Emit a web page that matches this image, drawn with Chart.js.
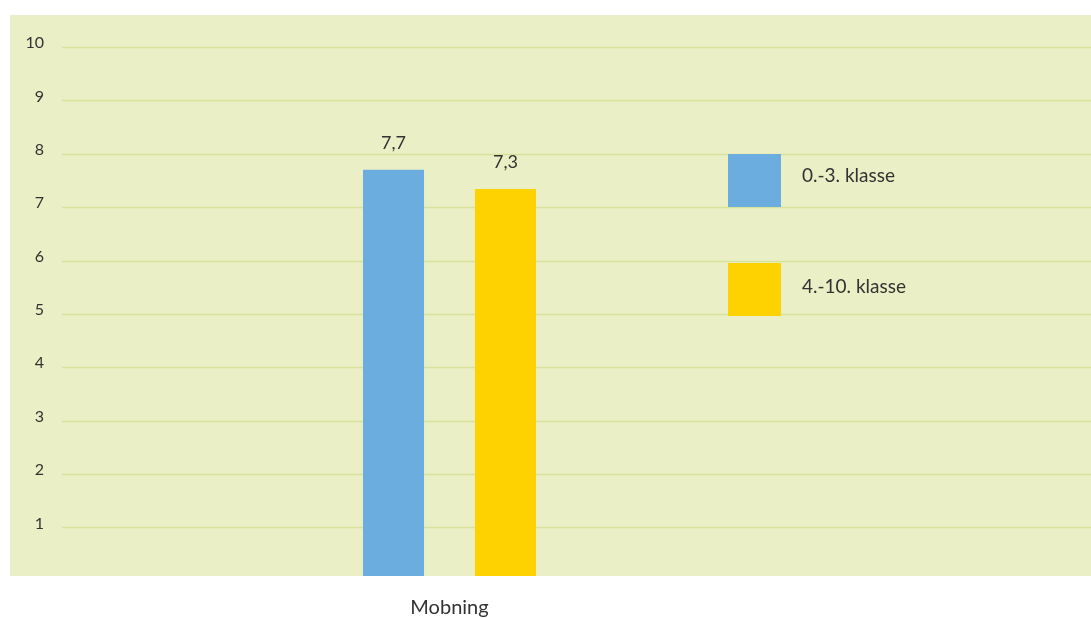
<!DOCTYPE html>
<html>
<head>
<meta charset="utf-8">
<script src="https://cdn.jsdelivr.net/npm/chart.js@4/dist/chart.umd.min.js"></script>
<style>
  html, body { margin: 0; padding: 0; background: #fff; }
  #wrap { width: 1091px; height: 619px; }
</style>
</head>
<body>
<div id="wrap"><canvas id="c" width="1091" height="619"></canvas></div>
<script>
    const kategorier = ['Mobning'];
    const serieNavne = ['0.-3. klasse', '4.-10. klasse'];
    const serieVaerdier = [[7.7], [7.34]];
    const serieFarver = ['#6cade0', '#fed100'];
    const yTicks = [1, 2, 3, 4, 5, 6, 7, 8, 9, 10];

    const fontFam = 'Lato, "Open Sans", sans-serif';

    // panel + gridlines running across the full width
    const baggrund = {
        id: 'baggrund',
        beforeDraw(chart) {
            const { ctx, chartArea } = chart;
            ctx.save();
            ctx.fillStyle = '#eaefc5';
            ctx.fillRect(10, 15, chart.width - 10, chartArea.bottom - 15);
            ctx.restore();
        },
        beforeDatasetsDraw(chart) {
            const { ctx, chartArea } = chart;
            const y = chart.scales.y;
            ctx.save();
            ctx.strokeStyle = '#d7e29a';
            ctx.lineWidth = 1.5;
            yTicks.forEach(v => {
                const py = Math.round(y.getPixelForValue(v)) + 0.5;
                ctx.beginPath();
                ctx.moveTo(chartArea.left, py);
                ctx.lineTo(chart.width, py);
                ctx.stroke();
            });
            ctx.restore();
        }
    };

    // value labels above bars + legend boxes on the right
    const etiketter = {
        id: 'etiketter',
        afterDatasetsDraw(chart) {
            const { ctx } = chart;
            ctx.save();
            ctx.fillStyle = '#333';
            ctx.font = '18px ' + fontFam;
            ctx.textAlign = 'center';
            ctx.textBaseline = 'middle';
            chart.data.datasets.forEach((ds, i) => {
                chart.getDatasetMeta(i).data.forEach((bar, j) => {
                    const txt = ds.data[j].toFixed(1).replace('.', ',');
                    ctx.fillText(txt, bar.x, bar.y - 27);
                });
            });
            // legend
            const legTop = [154, 263];
            chart.data.datasets.forEach((ds, i) => {
                ctx.fillStyle = ds.backgroundColor;
                ctx.fillRect(728, legTop[i], 53, 53);
                ctx.fillStyle = '#333';
                ctx.font = '19px ' + fontFam;
                ctx.textAlign = 'left';
                ctx.fillText(ds.label, 802, legTop[i] + 22 + i * 2);
            });
            ctx.restore();
        }
    };

    new Chart(document.getElementById('c'), {
        type: 'bar',
        data: {
            labels: kategorier,
            datasets: serieNavne.map((n, i) => ({
                label: n,
                data: serieVaerdier[i],
                backgroundColor: serieFarver[i],
                borderWidth: 0
            }))
        },
        options: {
            responsive: false,
            animation: false,
            categoryPercentage: 0.289,
            barPercentage: 0.545,
            layout: { padding: { left: 10, right: 254, top: 47, bottom: 0 } },
            plugins: { legend: { display: false }, tooltip: { enabled: false } },
            scales: {
                x: {
                    grid: { display: false, drawTicks: false },
                    border: { display: false },
                    ticks: { color: '#333', font: { family: fontFam, size: 20 }, padding: 20 },
                    afterFit(s) { s.height = 43; }
                },
                y: {
                    min: 0.09,
                    max: 10,
                    grid: { display: false, drawTicks: false },
                    border: { display: false },
                    afterBuildTicks(s) { s.ticks = yTicks.map(v => ({ value: v })); },
                    ticks: { color: '#333', font: { family: fontFam, size: 16 }, padding: 18, labelOffset: -4 },
                    afterFit(s) { s.width = 52; }
                }
            }
        },
        plugins: [baggrund, etiketter]
    });
</script>
</body>
</html>
